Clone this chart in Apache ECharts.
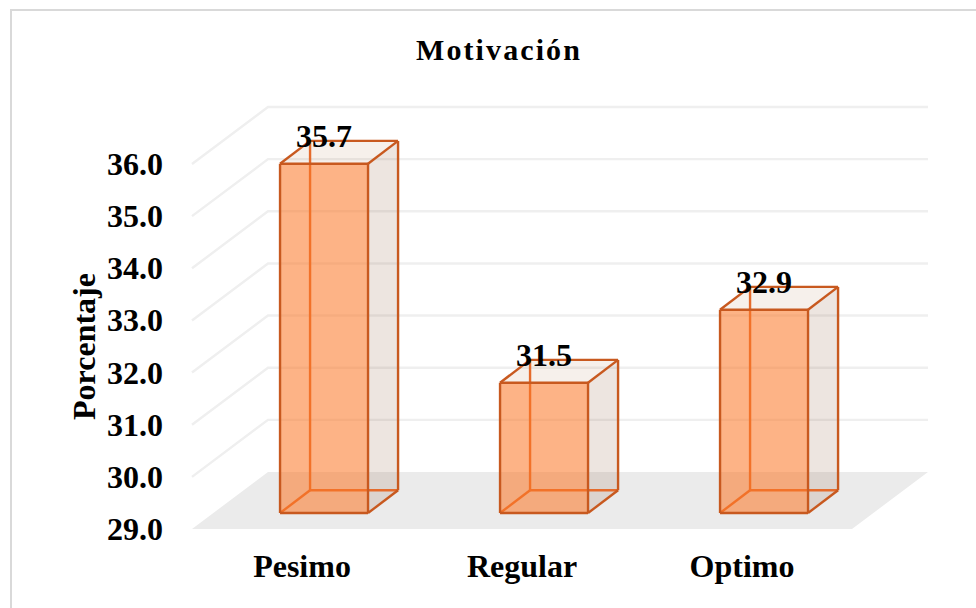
<!DOCTYPE html>
<html>
<head>
<meta charset="utf-8">
<style>
  html, body { margin: 0; padding: 0; background: #fff; }
  #chart { width: 976px; height: 608px; }
</style>
<script src="https://cdn.jsdelivr.net/npm/echarts@6/dist/echarts.min.js"></script>
</head>
<body>
<div id="chart"></div>
<script>
var categories = ["Pesimo", "Regular", "Optimo"];
var values = [35.7, 31.5, 32.9];
var yTicks = [29, 30, 31, 32, 33, 34, 35, 36];

// desplazamiento de la profundidad del piso (efecto 3D)
var DEPTH_X = 76;
var DEPTH_Y = 57;
var BAR_WIDTH = 0.4;

var SERIF = '"Liberation Serif", "Times New Roman", serif';
var EDGE = "#C8591F";
var EDGE_BACK = "#E56B2C";

function shift(pt, dx, dy) {
  return [pt[0] + dx * DEPTH_X, pt[1] - dy * DEPTH_Y];
}

function poly(points, fill, z2) {
  return { type: "polygon", z2: z2, shape: { points: points }, style: { fill: fill } };
}

function edge(a, b, color, z2) {
  return {
    type: "line", z2: z2,
    shape: { x1: a[0], y1: a[1], x2: b[0], y2: b[1] },
    style: { stroke: color, lineWidth: 2.4 }
  };
}

// paredes: lineas de cuadricula
function renderGrid(params, api) {
  var rect = params.coordSys;
  var tick = api.value(1);
  var y = api.coord([0, tick])[1];
  var a = [rect.x, y];
  var b = shift(a, 1, 1);
  var c = [rect.x + rect.width + DEPTH_X, b[1]];
  return {
    type: "polyline",
    shape: { points: tick === yTicks[0] ? [b, b] : [a, b, c] },
    style: { stroke: "#EFEFEF", lineWidth: 2.4, fill: null }
  };
}

function renderFloor(params, api) {
  var rect = params.coordSys;
  var y = api.coord([0, yTicks[0]])[1];
  var a = [rect.x, y];
  var b = [rect.x + rect.width, y];
  return poly([a, b, shift(b, 1, 1), shift(a, 1, 1)], "#EBEBEB", 0);
}

function renderBar(params, api) {
  var idx = api.value(0);
  var val = api.value(1);
  var base = api.coord([idx, yTicks[0]]);
  var top = api.coord([idx, val]);
  var half = api.size([1, 0])[0] * BAR_WIDTH / 2;

  var fbl = shift([base[0] - half, base[1]], 0.29, 0.28);
  var fbr = shift([base[0] + half, base[1]], 0.29, 0.28);
  var ftl = shift([top[0] - half, top[1]], 0.29, 0.28);
  var ftr = shift([top[0] + half, top[1]], 0.29, 0.28);
  var bbl = shift(fbl, 0.395, 0.4), bbr = shift(fbr, 0.395, 0.4);
  var btl = shift(ftl, 0.395, 0.4), btr = shift(ftr, 0.395, 0.4);

  return {
    type: "group",
    children: [
      poly([fbr, bbr, btr, ftr], "rgba(150,100,70,0.17)", 1),
      poly([ftl, ftr, btr, btl], "rgba(170,110,60,0.10)", 1),
      edge(bbl, btl, EDGE_BACK, 2),
      edge(bbl, bbr, EDGE_BACK, 2),
      edge(bbl, fbl, EDGE_BACK, 2),
      poly([fbl, fbr, ftr, ftl], "rgba(252,120,40,0.56)", 3),
      edge(fbl, fbr, EDGE, 4),
      edge(fbr, ftr, EDGE, 4),
      edge(ftr, ftl, EDGE, 4),
      edge(ftl, fbl, EDGE, 4),
      edge(fbr, bbr, EDGE, 4),
      edge(bbr, btr, EDGE, 4),
      edge(btr, ftr, EDGE, 4),
      edge(btr, btl, EDGE, 4),
      edge(btl, ftl, EDGE, 4),
      {
        type: "text", z2: 5,
        style: {
          text: val.toFixed(1),
          x: (ftl[0] + ftr[0]) / 2,
          y: ftl[1] - 28,
          align: "center",
          verticalAlign: "middle",
          fill: "#000",
          font: "bold 32px " + SERIF
        }
      }
    ]
  };
}

var chart = echarts.init(document.getElementById("chart"), null, { renderer: "svg" });

// el titulo va con letras separadas
function spaceTitle() {
  var nodes = document.querySelectorAll("#chart svg *");
  for (var i = 0; i < nodes.length; i++) {
    if (nodes[i].tagName === "text" && nodes[i].textContent.indexOf("Motivaci") === 0) {
      nodes[i].style.letterSpacing = "2.1px";
    }
  }
}
chart.on("finished", spaceTitle);

chart.setOption({
  animation: false,
  backgroundColor: "#fff",
  graphic: [{
    type: "rect", z: -1,
    shape: { x: 11, y: 10, width: 1100, height: 800 },
    style: { fill: "#fff", stroke: "#D9D9D9", lineWidth: 2 }
  }],
  title: {
    text: "Motivación",
    left: 494, top: 44,
    textAlign: "center", textVerticalAlign: "middle",
    textStyle: { fontFamily: SERIF, fontWeight: "bold", fontSize: 30, color: "#000" }
  },
  grid: { left: 192, top: 164, width: 660, height: 365 },
  xAxis: {
    type: "category",
    data: categories,
    axisLine: { show: false },
    axisTick: { show: false },
    axisLabel: { margin: 21, color: "#000", fontFamily: SERIF, fontWeight: "bold", fontSize: 32 }
  },
  yAxis: {
    type: "value",
    min: 29, max: 36, interval: 1,
    name: "Porcentaje",
    nameLocation: "middle",
    nameGap: 92,
    nameMoveOverlap: false,
    nameTextStyle: { color: "#000", fontFamily: SERIF, fontWeight: "bold", fontSize: 32 },
    splitLine: { show: false },
    axisLine: { show: false },
    axisTick: { show: false },
    axisLabel: {
      margin: 29, color: "#000", fontFamily: SERIF, fontWeight: "bold", fontSize: 32,
      padding: [5, 0, 0, 0],
      formatter: function (v) { return v.toFixed(1); }
    }
  },
  series: [
    { type: "custom", z: 1, renderItem: renderFloor, data: [[0, yTicks[0]]], silent: true },
    { type: "custom", z: 2, renderItem: renderGrid, data: yTicks.map(function (t) { return [0, t]; }), silent: true },
    { type: "custom", z: 3, renderItem: renderBar, data: values.map(function (v, i) { return [i, v]; }) }
  ]
});
spaceTitle();
</script>
</body>
</html>
